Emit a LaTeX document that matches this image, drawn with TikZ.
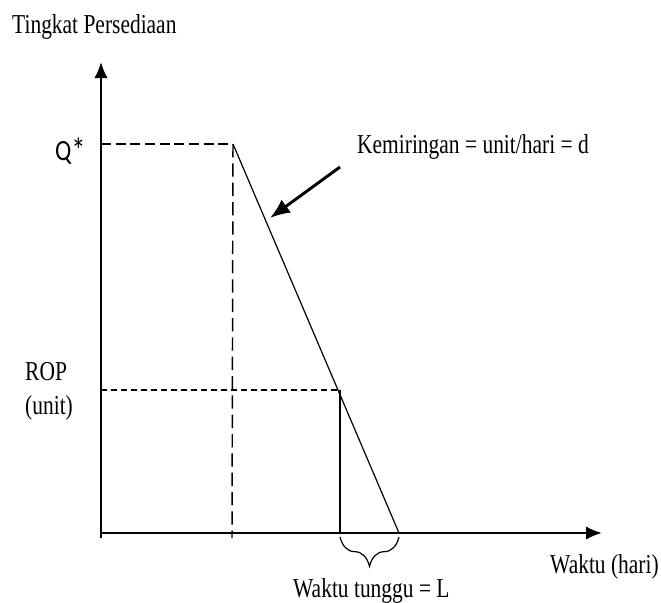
\documentclass[tikz,border=0pt]{standalone}
\usepackage{fontspec}
\setmainfont{Liberation Serif}
\newfontfamily\qfont{Carlito}
\usetikzlibrary{positioning,arrows.meta,decorations.pathreplacing}

\begin{document}
\begin{tikzpicture}[x=0.75pt, y=-0.75pt, font=\fontsize{20.5}{22}\selectfont,
    lbl/.style={inner sep=0pt, anchor=base west, xscale=0.785},
    axisline/.style={line width=1.6pt, -{Latex[length=12pt,width=10pt]}},
    qline/.style={line width=1.7pt, dash pattern=on 7.5pt off 3.5pt},
    qdrop/.style={line width=1.1pt, dash pattern=on 10pt off 4.5pt},
    ropline/.style={line width=1.1pt, dash pattern=on 4.5pt off 3pt}]
    \useasboundingbox (0,0) rectangle (661,603);
    % points of the inventory curve
    \coordinate (O) at (101,533);
    \coordinate (ytop) at (101,62);
    \coordinate (xend) at (602,533);
    \coordinate (qleft) at (101,144);
    \coordinate (qpeak) at (233,144);
    \coordinate (qfoot) at (232,538);
    \coordinate (ropleft) at (101,390);
    \coordinate (rop) at (340,390);
    \coordinate (ropfoot) at (340,533);
    \coordinate (zero) at (399,533);
    \coordinate (slopefrom) at (340,167);
    \coordinate (slopeto) at (270,218);

    \draw[axisline] (101,538) -- (ytop);
    \draw[axisline] (100,533) -- (xend);
    \draw[qline] (qleft) -- (qpeak);
    \draw[qdrop] (qpeak) -- (qfoot);
    \draw[line width=0.9pt] (qpeak) -- (zero);
    \draw[ropline] (ropleft) -- (rop);
    \draw[line width=0.9pt] (rop) -- (ropfoot);
    \draw[line width=2.2pt, -{Latex[length=15pt,width=12pt]}] (slopefrom) -- (slopeto);
    \draw[line width=0.9pt, decorate, decoration={brace, mirror, amplitude=22pt}]
      (340,537) -- (399,537);

    \node[lbl] (ylabel) at (12,33) {Tingkat Persediaan};
    \node[lbl] (slope) at (357,153) {Kemiringan = unit/hari = d};
    \node[lbl, xscale=1.05] (qstar) at (55,160) {\qfont\fontsize{22}{22}\selectfont Q\raisebox{-2pt}{\fontsize{26}{26}\selectfont*}};
    \node[lbl] (roptext) at (25,380) {ROP};
    \node[lbl] (ropunit) at (25,414) {(unit)};
    \node[lbl] (xlabel) at (550,573) {Waktu (hari)};
    \node[lbl] (lead) at (293,597) {Waktu tunggu = L};
  \end{tikzpicture}
\end{document}
